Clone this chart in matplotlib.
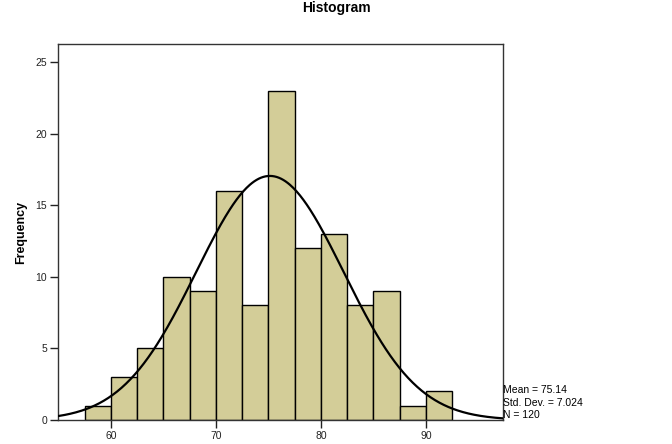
import numpy as np
import matplotlib
matplotlib.use("Agg")
import matplotlib.pyplot as plt

plt.rcParams['font.family'] = ['Liberation Sans', 'DejaVu Sans']

bin_edges = [57.5, 60, 62.5, 65, 67.5, 70, 72.5, 75, 77.5, 80, 82.5, 85, 87.5, 90, 92.5]
counts = [1, 3, 5, 10, 9, 16, 8, 23, 12, 13, 8, 9, 1, 2]
mean = 75.14
std = 7.024
n = 120
xticks = [60, 70, 80, 90]
yticks = [0, 5, 10, 15, 20, 25]

fig = plt.figure(figsize=(6.72, 4.44), dpi=100)
ax = fig.add_axes([58/672, 24/444, 445/672, 376/444])

lefts = bin_edges[:-1]
widths = np.diff(bin_edges)
ax.bar(lefts, counts, width=widths, align='edge', color='#D3CD98',
       edgecolor='black', linewidth=1.0, zorder=2)

xlim = (54.95, 97.35)
xs = np.linspace(xlim[0], xlim[1], 400)
bw = widths[0]
ys = n * bw / (std * np.sqrt(2 * np.pi)) * np.exp(-0.5 * ((xs - mean) / std) ** 2)
ax.plot(xs, ys, color='black', linewidth=1.6, zorder=3)

ax.set_xlim(*xlim)
ax.set_ylim(0, 26.25)
ax.set_xticks(xticks)
ax.set_yticks(yticks)
ax.tick_params(direction='out', length=6, width=1, labelsize=7.5, colors='#222222', pad=2)
for s in ax.spines.values():
    s.set_linewidth(1.0)
    s.set_color('#333333')

ax.set_ylabel('Frequency', fontsize=9, fontweight='bold', labelpad=6)

fig.text(503/672, 1 - 390/444, f'Mean = {mean}', fontsize=7.5, va='center', ha='left')
fig.text(503/672, 1 - 403/444, f'Std. Dev. = {std}', fontsize=7.5, va='center', ha='left')
fig.text(503/672, 1 - 415/444, f'N = {n}', fontsize=7.5, va='center', ha='left')

fig.text(336/672, 1 - 1/444, 'Histogram', fontsize=10, fontweight='bold', ha='center', va='top')

fig.savefig('out.png', dpi=100)
